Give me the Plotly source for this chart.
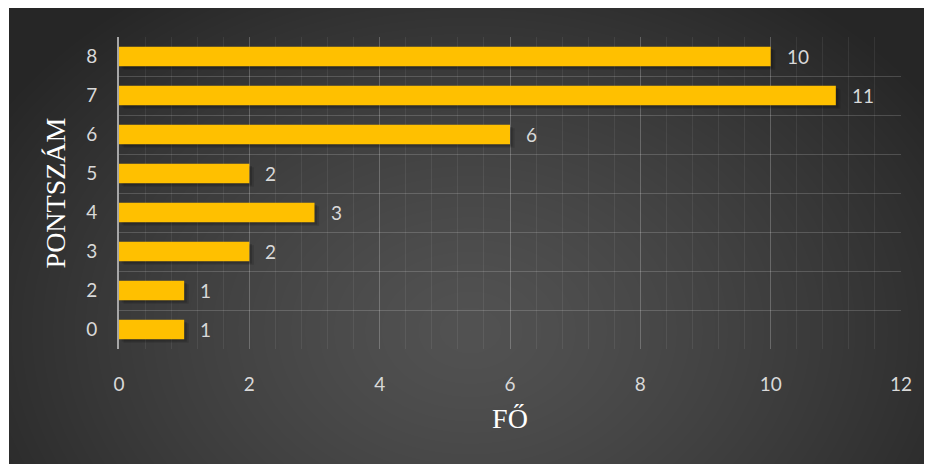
import base64
import struct
import zlib

import numpy as np
import plotly.graph_objects as go

# Score (pontszám) categories, bottom to top, and head counts (fő)
categories = ["0", "2", "3", "4", "5", "6", "7", "8"]
counts = [1, 1, 2, 3, 2, 6, 11, 10]
x_ticks = [0, 2, 4, 6, 8, 10, 12]

W, H = 932, 464
PLOT_L, PLOT_R, PLOT_T, PLOT_B = 119, 901, 37, 349
BG_L, BG_R, BG_T, BG_B = 9, 924, 8, 464


def radial_png(w, h, cx, cy, rx, ry, inner, outer):
    """Grayscale radial-gradient PNG as a data URI."""
    yy, xx = np.mgrid[0:h, 0:w].astype(float)
    d = np.sqrt(((xx - cx) / rx) ** 2 + ((yy - cy) / ry) ** 2)
    d = np.clip(d, 0, 1)
    v = (inner - (inner - outer) * d ** 1.3).astype(np.uint8)
    raw = b"".join(b"\x00" + v[i].tobytes() for i in range(h))

    def chunk(tag, data):
        c = struct.pack(">I", len(data)) + tag + data
        return c + struct.pack(">I", zlib.crc32(tag + data) & 0xFFFFFFFF)

    png = b"\x89PNG\r\n\x1a\n"
    png += chunk(b"IHDR", struct.pack(">IIBBBBB", w, h, 8, 0, 0, 0, 0))
    png += chunk(b"IDAT", zlib.compress(raw, 9))
    png += chunk(b"IEND", b"")
    return "data:image/png;base64," + base64.b64encode(png).decode()


bg_w, bg_h = BG_R - BG_L, BG_B - BG_T
bg_src = radial_png(bg_w, bg_h, cx=470 - BG_L, cy=330 - BG_T,
                    rx=560, ry=420, inner=82, outer=38)

pw, ph = PLOT_R - PLOT_L, PLOT_B - PLOT_T

fig = go.Figure()

# soft drop shadow under each bar
for dx, dy, alpha in [(0.07, 0.09, 0.12), (0.04, 0.06, 0.16)]:
    fig.add_trace(go.Bar(
        y=categories, x=counts, base=dx, orientation="h",
        width=0.5, offset=-0.25 - dy,
        marker=dict(color=f"rgba(0,0,0,{alpha})", line=dict(width=0)),
        hoverinfo="skip", showlegend=False,
    ))

fig.add_trace(go.Bar(
    y=categories, x=counts, orientation="h",
    width=0.5, offset=-0.25,
    marker=dict(color="#FFC000", line=dict(width=0)),
    showlegend=False,
))

# value labels just past the end of each bar (y given as category index)
for idx, val in enumerate(counts):
    fig.add_annotation(
        x=val, y=idx, xref="x", yref="y", text=str(val),
        showarrow=False, xanchor="left", yanchor="middle", xshift=14,
        font=dict(family="Lato, 'Open Sans', sans-serif", size=19, color="#d9d9d9"),
    )

fig.add_layout_image(
    source=bg_src, xref="paper", yref="paper",
    x=(BG_L - PLOT_L) / pw, y=(PLOT_B - BG_T) / ph,
    sizex=bg_w / pw, sizey=bg_h / ph,
    xanchor="left", yanchor="top", sizing="stretch", layer="below",
)

fig.update_layout(
    width=W, height=H,
    margin=dict(l=PLOT_L, r=W - PLOT_R, t=PLOT_T, b=H - PLOT_B, pad=0),
    paper_bgcolor="white",
    plot_bgcolor="rgba(0,0,0,0)",
    barmode="overlay",
    bargap=0.5,
    font=dict(family="Lato, 'Open Sans', sans-serif", size=19, color="#d9d9d9"),
)

fig.update_xaxes(
    range=[0, 12], tickvals=x_ticks, ticks="",
    showgrid=True, gridcolor="rgba(255,255,255,0.17)", gridwidth=1,
    minor=dict(dtick=0.4, showgrid=True, gridcolor="rgba(255,255,255,0.07)", gridwidth=1),
    zeroline=False, showline=False,
    ticklabelstandoff=22,
    tickfont=dict(size=19, color="#d9d9d9"),
    title=dict(text="FŐ", standoff=14,
               font=dict(family="'Liberation Serif', 'Times New Roman', serif", size=28, color="#ffffff")),
)

fig.update_yaxes(
    type="category", categoryorder="array", categoryarray=categories,
    range=[-0.5, len(categories) - 0.5],
    tickson="boundaries", ticks="",
    showgrid=True, gridcolor="rgba(255,255,255,0.17)", gridwidth=1,
    showline=True, linecolor="#a6a6a6", linewidth=2,
    zeroline=False,
    ticklabelstandoff=16,
    tickfont=dict(size=19, color="#d9d9d9"),
    title=dict(text="PONTSZÁM", standoff=12,
               font=dict(family="'Liberation Serif', 'Times New Roman', serif", size=28, color="#ffffff")),
)

fig.write_html("out.html")
